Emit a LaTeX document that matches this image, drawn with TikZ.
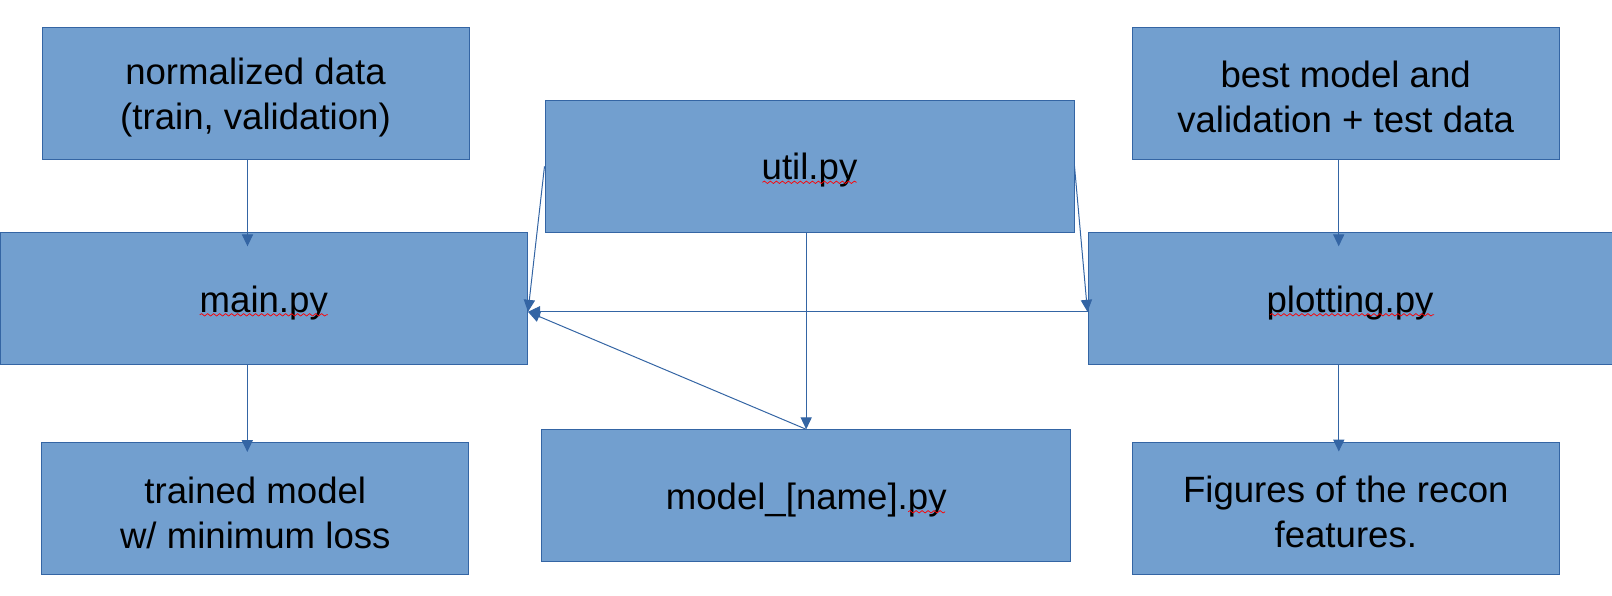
\documentclass[tikz,border=0pt]{standalone}
\usepackage{fontspec}
\setmainfont{Liberation Sans}
\usetikzlibrary{arrows.meta,decorations.pathmorphing}

\definecolor{boxFill}{HTML}{729FCF}
\definecolor{boxLine}{HTML}{3465A4}

\newcommand{\lineWidth}{0.5pt}
\newcommand{\smallBoxWidth}{213.5pt}
\newcommand{\wideBoxWidth}{264.5pt}
\newcommand{\boxHeight}{66pt}
\newcommand{\tipInTop}{-7pt}
\newcommand{\tipInBottom}{-5pt}
\newcommand{\entryY}{-6.5pt}
\newcommand{\textY}{-2pt}
\newcommand{\waveY}{-8pt}

\tikzset{
  filebox/.style={draw=boxLine, fill=boxFill, line width=\lineWidth, inner sep=0pt,
    minimum height=\boxHeight},
  smallbox/.style={filebox, minimum width=\smallBoxWidth},
  widebox/.style={filebox, minimum width=\wideBoxWidth},
  boxtext/.style={inner sep=0pt, align=center, font=\fontsize{18.3pt}{22.5pt}\selectfont},
  flow/.style={draw=boxLine, line width=\lineWidth, -{Triangle[length=6pt,width=5.6pt]}},
  squiggle/.style={draw=red, line width=0.35pt, decorate,
    decoration={snake, amplitude=0.6pt, segment length=3pt}}
}

\begin{document}
\begin{tikzpicture}[x=0.5pt, y=-0.5pt]
        \useasboundingbox (0,0) rectangle (1612,595);

        % Data and results
        \node[smallbox] (normdata) at (255.5,93.5) {};
        \node[smallbox] (bestdata) at (1345.7,93) {};
        \node[smallbox] (trained) at (255.3,508.5) {};
        \node[smallbox] (figures) at (1345.8,508) {};

        % Scripts
        \node[widebox] (utilpy) at (809.5,166.3) {};
        \node[widebox] (modelpy) at (806.2,495.8) {};
        \node[filebox, minimum width=263.75pt] (mainpy) at (263.75,298.8) {};
        \node[filebox, minimum width=262pt] (plotpy) at (1350,298.8) {};

        % Box texts
        \node[boxtext] (normdata-txt) at ([yshift=\textY]normdata.center) {normalized data\\(train, validation)};
        \node[boxtext] (bestdata-txt) at ([yshift=\textY]bestdata.center) {best model and\\validation + test data};
        \node[boxtext] (trained-txt) at ([yshift=\textY]trained.center) {trained model\\w/ minimum loss};
        \node[boxtext] (figures-txt) at ([yshift=\textY]figures.center) {Figures of the recon\\features.};
        \node[boxtext] (utilpy-txt) at ([yshift=\textY]utilpy.center) {util.py};
        \node[boxtext] (modelpy-txt) at ([yshift=\textY]modelpy.center) {model\_[name].py};
        \node[boxtext] (mainpy-txt) at ([yshift=\textY]mainpy.center) {main.py};
        \node[boxtext] (plotpy-txt) at ([yshift=\textY]plotpy.center) {plotting.py};

        % Spell check marks
        \draw[squiggle] ([xshift=-32pt,yshift=\waveY]mainpy.center) -- ([xshift=32pt,yshift=\waveY]mainpy.center);
        \draw[squiggle] ([xshift=-23.5pt,yshift=\waveY]utilpy.center) -- ([xshift=23.5pt,yshift=\waveY]utilpy.center);
        \draw[squiggle] ([xshift=-40pt,yshift=\waveY]plotpy.center) -- ([xshift=42pt,yshift=\waveY]plotpy.center);
        \draw[squiggle] ([xshift=51pt,yshift=\waveY]modelpy.center) -- ([xshift=69.5pt,yshift=\waveY]modelpy.center);

        % Draw vertical flow
        \draw[flow, shorten >=\tipInTop] ([xshift=-4pt]normdata.south) -- ([xshift=-4pt]normdata.south |- mainpy.north);
        \draw[flow, shorten >=\tipInBottom] ([xshift=-4pt]trained.north |- mainpy.south) -- ([xshift=-4pt]trained.north);
        \draw[flow, shorten >=\tipInTop] ([xshift=-3.5pt]bestdata.south) -- ([xshift=-3.5pt]bestdata.south |- plotpy.north);
        \draw[flow, shorten >=\tipInBottom] ([xshift=-3.5pt]figures.north |- plotpy.south) -- ([xshift=-3.5pt]figures.north);
        \draw[flow] (modelpy.north |- utilpy.south) -- (modelpy.north);

        % Draw imports into main.py and plotting.py
        \draw[flow] (utilpy.west) -- ([yshift=\entryY]mainpy.east);
        \draw[flow] (utilpy.east) -- ([yshift=\entryY]plotpy.west);
        \draw[flow] ([yshift=\entryY]plotpy.west) -- ([yshift=\entryY]mainpy.east);
        \draw[flow] (modelpy.north) -- ([yshift=\entryY]mainpy.east);
\end{tikzpicture}
\end{document}
